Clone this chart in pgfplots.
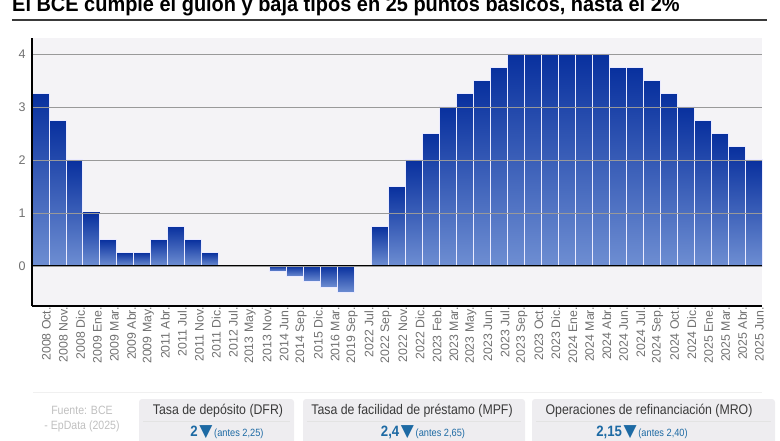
\documentclass[border=0pt]{standalone}
\usepackage{fontspec}
\setmainfont{Liberation Sans}
\newfontfamily\condensed{Liberation Sans}[FakeStretch=0.88]
\newfontfamily\titlefont{Liberation Sans}[FakeStretch=0.95]
\newfontfamily\symfont{DejaVu Sans}
\usepackage{pgfplots}
\pgfplotsset{compat=1.18}
\definecolor{barTop}{HTML}{08309E}
\definecolor{barBot}{HTML}{6E8ED2}
\definecolor{bgcol}{HTML}{F4F3F6}
\definecolor{labgray}{HTML}{707070}
\definecolor{boxbg}{HTML}{EEEDF0}
\definecolor{valblue}{HTML}{1D6AA4}
\definecolor{fuente}{HTML}{C0C0C0}
\definecolor{titlecol}{HTML}{3A3A3A}
\pgfplotsset{mybar/.style={ybar, bar width=1, bar shift=0pt, draw=white!92!blue, line width=0.9pt,
  top color=barTop, middle color=barTop!88!barBot, bottom color=barBot}}
\begin{document}
\begin{tikzpicture}
\begin{axis}[
  scale only axis,
  width=730pt, height=268pt,
  xmin=-0.5, xmax=42.5, ymin=-0.755, ymax=4.3,
  axis x line*=bottom, axis y line*=left,
  axis line style={black, line width=1.6pt, -},
  axis on top,
  axis background/.style={fill=bgcol},
  ytick={0,1,2,3,4},
  ymajorgrids, grid style={gray!80, line width=0.8pt},
  major tick length=0pt,
  /pgf/number format/assume math mode=true,
  yticklabel style={font=\fontsize{12.5}{12.5}\selectfont, text=labgray, xshift=-3pt},
  xtick={0,...,42},
  xticklabels={2008 Oct., 2008 Nov., 2008 Dic., 2009 Ene., 2009 Mar., 2009 Abr., 2009 May., 2011 Abr., 2011 Jul., 2011 Nov., 2011 Dic., 2012 Jul., 2013 May., 2013 Nov., 2014 Jun., 2014 Sep., 2015 Dic., 2016 Mar., 2019 Sep., 2022 Jul., 2022 Sep., 2022 Nov., 2022 Dic., 2023 Feb., 2023 Mar., 2023 May., 2023 Jun., 2023 Jul., 2023 Sep., 2023 Oct., 2023 Dic., 2024 Ene., 2024 Mar., 2024 Abr., 2024 Jun., 2024 Jul., 2024 Sep., 2024 Oct., 2024 Dic., 2025 Ene., 2025 Mar., 2025 Abr., 2025 Jun.},
  xticklabel style={rotate=90, anchor=east, font=\fontsize{12.3}{12.3}\selectfont, text=labgray, inner sep=1pt, yshift=-6pt},
  clip=false,
]
% one plot per bar so that each bar carries its own gradient (0 values: no visible bar)
\addplot[mybar] coordinates {(0,3.25)};
\addplot[mybar] coordinates {(1,2.75)};
\addplot[mybar] coordinates {(2,2.00)};
\addplot[mybar] coordinates {(3,1.00)};
\addplot[mybar] coordinates {(4,0.50)};
\addplot[mybar] coordinates {(5,0.25)};
\addplot[mybar] coordinates {(6,0.25)};
\addplot[mybar] coordinates {(7,0.50)};
\addplot[mybar] coordinates {(8,0.75)};
\addplot[mybar] coordinates {(9,0.50)};
\addplot[mybar] coordinates {(10,0.25)};
\addplot[mybar] coordinates {(14,-0.10)};
\addplot[mybar] coordinates {(15,-0.20)};
\addplot[mybar] coordinates {(16,-0.30)};
\addplot[mybar] coordinates {(17,-0.40)};
\addplot[mybar] coordinates {(18,-0.50)};
\addplot[mybar] coordinates {(20,0.75)};
\addplot[mybar] coordinates {(21,1.50)};
\addplot[mybar] coordinates {(22,2.00)};
\addplot[mybar] coordinates {(23,2.50)};
\addplot[mybar] coordinates {(24,3.00)};
\addplot[mybar] coordinates {(25,3.25)};
\addplot[mybar] coordinates {(26,3.50)};
\addplot[mybar] coordinates {(27,3.75)};
\addplot[mybar] coordinates {(28,4.00)};
\addplot[mybar] coordinates {(29,4.00)};
\addplot[mybar] coordinates {(30,4.00)};
\addplot[mybar] coordinates {(31,4.00)};
\addplot[mybar] coordinates {(32,4.00)};
\addplot[mybar] coordinates {(33,4.00)};
\addplot[mybar] coordinates {(34,3.75)};
\addplot[mybar] coordinates {(35,3.75)};
\addplot[mybar] coordinates {(36,3.50)};
\addplot[mybar] coordinates {(37,3.25)};
\addplot[mybar] coordinates {(38,3.00)};
\addplot[mybar] coordinates {(39,2.75)};
\addplot[mybar] coordinates {(40,2.50)};
\addplot[mybar] coordinates {(41,2.25)};
\addplot[mybar] coordinates {(42,2.00)};
\draw[black, line width=1.6pt] (axis cs:-0.5,0) -- (axis cs:42.5,0);
\coordinate (O) at (axis cs:-0.5,-0.755);
\end{axis}
\pgfresetboundingbox
\begin{scope}[shift={(O)}, x=1pt, y=1pt]
% image pixel (X,Y) -> (X-32, 306-Y)
\useasboundingbox (-32,-134) rectangle (748,306);
\node[anchor=base west, inner sep=0, text=black, font=\titlefont\bfseries\fontsize{21}{21}\selectfont] at (-20,295) {El BCE cumple el guion y baja tipos en 25 puntos básicos, hasta el 2\%};
\draw[titlecol, line width=2pt] (-20,286.5) -- (735,286.5);
\draw[gray!12, line width=1pt] (1,-86.5) -- (730,-86.5);
\node[align=center, font=\condensed\fontsize{12}{15}\selectfont, text=fuente] at (50,-113.5) {Fuente: BCE\\- EpData (2025)};
\fill[boxbg, rounded corners=3pt] (107,-144) rectangle (262,-93);
\fill[boxbg, rounded corners=3pt] (271,-144) rectangle (493,-93);
\fill[boxbg, rounded corners=3pt] (500,-144) rectangle (743,-93);
\draw[gray!22, line width=0.6pt] (111,-115) -- (258,-115);
\draw[gray!22, line width=0.6pt] (275,-115) -- (489,-115);
\draw[gray!22, line width=0.6pt] (504,-115) -- (739,-115);
\node[font=\condensed\fontsize{14}{14}\selectfont, text=titlecol] at (186,-105) {Tasa de depósito (DFR)};
\node[font=\condensed\fontsize{14}{14}\selectfont, text=titlecol] at (380,-105) {Tasa de facilidad de préstamo (MPF)};
\node[font=\condensed\fontsize{14}{14}\selectfont, text=titlecol] at (617,-105) {Operaciones de refinanciación (MRO)};
\node[text=valblue] at (195,-126) {{\condensed\bfseries\fontsize{15}{15}\selectfont 2}\,{\symfont\fontsize{17}{17}\selectfont ▼}\,{\condensed\fontsize{10.5}{10.5}\selectfont (antes 2,25)}};
\node[text=valblue] at (391,-126) {{\condensed\bfseries\fontsize{15}{15}\selectfont 2,4}\,{\symfont\fontsize{17}{17}\selectfont ▼}\,{\condensed\fontsize{10.5}{10.5}\selectfont (antes 2,65)}};
\node[text=valblue] at (610,-126) {{\condensed\bfseries\fontsize{15}{15}\selectfont 2,15}\,{\symfont\fontsize{17}{17}\selectfont ▼}\,{\condensed\fontsize{10.5}{10.5}\selectfont (antes 2,40)}};
\end{scope}
\end{tikzpicture}
\end{document}
